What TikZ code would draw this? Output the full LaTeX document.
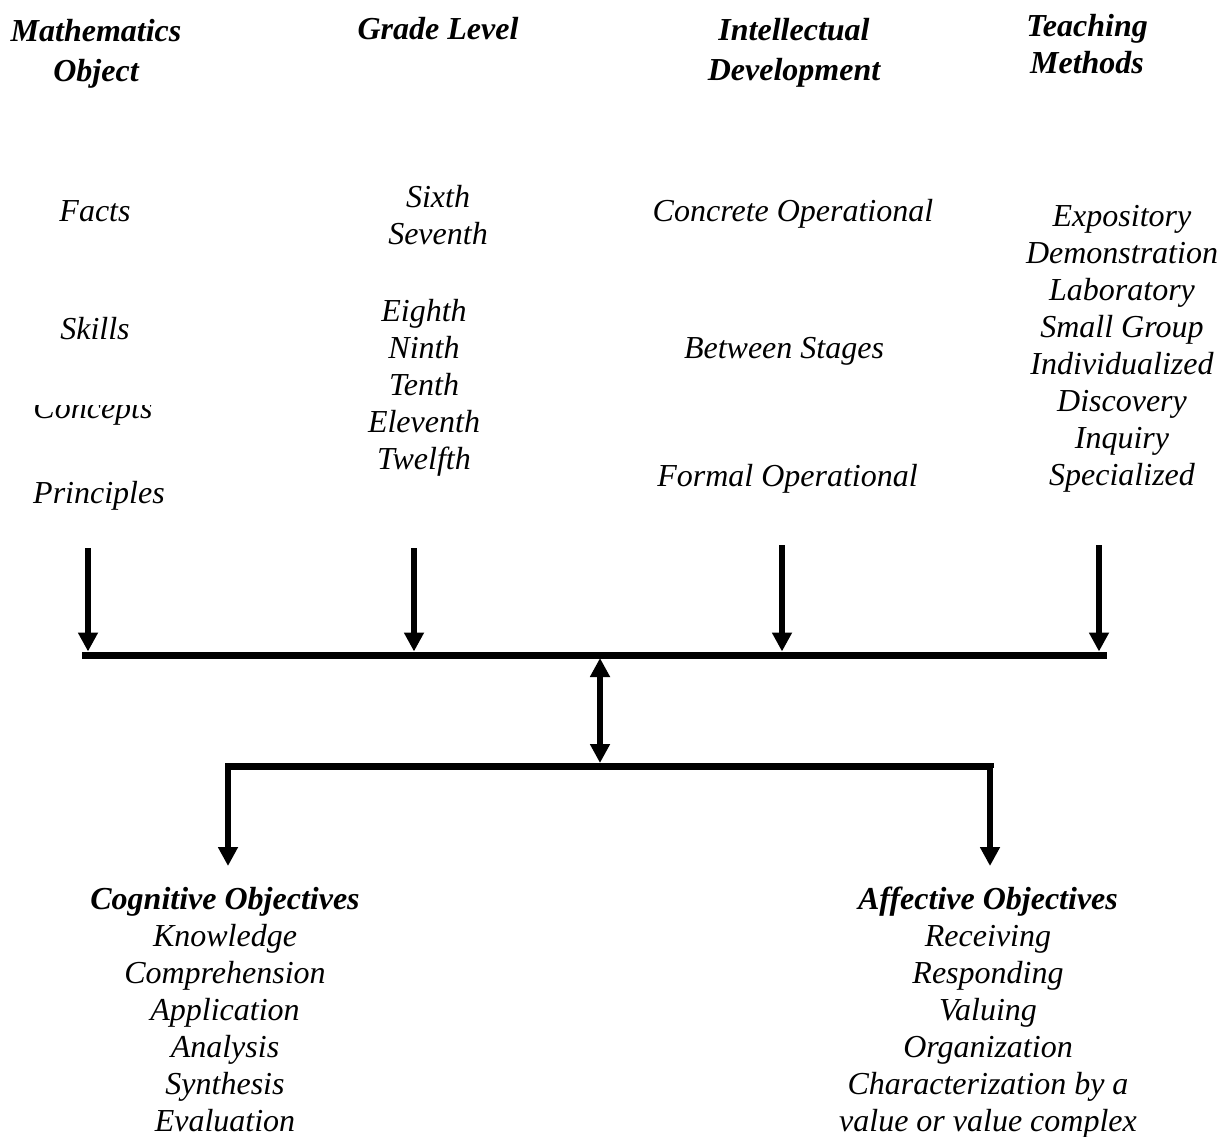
\documentclass[tikz,border=0pt]{standalone}
\usepackage{fontspec}
\setmainfont{Liberation Serif}
\usetikzlibrary{arrows.meta}
\begin{document}
\begin{tikzpicture}[x=1pt,y=-1pt,
  txt/.style={font=\fontsize{32}{37}\selectfont\itshape, align=center, inner sep=0pt},
  head/.style={font=\fontsize{32}{40}\selectfont\bfseries\itshape, align=center, inner sep=0pt},
  bus/.style={line width=7pt, line cap=rect},
  arr/.style={line width=5.5pt, -{Triangle[width=19pt,length=19pt]}},
  darr/.style={line width=5.5pt, {Triangle[width=19pt,length=19pt]}-{Triangle[width=19pt,length=19pt]}}]
\useasboundingbox (0,0) rectangle (1223,1136);
% headings
\node[head] (h1) at (96,53.5) {Mathematics\\Object};
\node[head] (h2) at (438,29) {Grade Level};
\node[head] (h3) at (794,52.5) {Intellectual\\Development};
\node[head, font=\fontsize{32}{37}\selectfont\bfseries\itshape] (h4) at (1087,44.5) {Teaching\\Methods};
% mathematics objects
\node[txt] (facts) at (95,211) {Facts};
\node[txt] (skills) at (95,329) {Skills};
\begin{scope}
\clip (0,405) rectangle (300,440);
\node[txt, anchor=base] (concepts) at (93,418) {Concepts};
\end{scope}
\node[txt] (princ) at (99,496) {Principles};
% grade levels
\node[txt] (g1) at (438,215.5) {Sixth\\Seventh};
\node[txt] (g2) at (424,388) {Eighth\\Ninth\\Tenth\\Eleventh\\Twelfth};
% intellectual development
\node[txt] (i1) at (793,214) {Concrete Operational};
\node[txt] (i2) at (784,351) {Between Stages};
\node[txt] (i3) at (787.5,479) {Formal Operational};
% teaching methods
\node[txt] (tm) at (1122,349) {Expository\\Demonstration\\Laboratory\\Small Group\\Individualized\\Discovery\\Inquiry\\Specialized};
% objectives
\node[txt] (cog) at (225,1009.5) {{\bfseries Cognitive Objectives}\\Knowledge\\Comprehension\\Application\\Analysis\\Synthesis\\Evaluation};
\node[txt] (aff) at (988,1012.5) {{\bfseries Affective Objectives}\\Receiving\\Responding\\Valuing\\Organization\\Characterization by a\\value or value complex};
% coordinates
\coordinate (a1) at (88,548);
\coordinate (a2) at (414,548);
\coordinate (a3) at (782,545);
\coordinate (a4) at (1099,545);
\coordinate (busL) at (85,655);
\coordinate (busR) at (1103,655);
\coordinate (busTop) at (0,651.5);
\coordinate (mid1) at (600,658);
\coordinate (mid2) at (600,763);
\coordinate (lowL) at (228,766);
\coordinate (lowR) at (990,766);
\coordinate (tipL) at (228,866);
\coordinate (tipR) at (990,866);
% connectors
\draw[bus] (busL) -- (busR);
\draw[arr] (a1) -- (a1 |- busTop);
\draw[arr] (a2) -- (a2 |- busTop);
\draw[arr] (a3) -- (a3 |- busTop);
\draw[arr] (a4) -- (a4 |- busTop);
\draw[darr] (mid1) -- (mid2);
\draw[line width=7pt, line join=miter] ([yshift=-2pt]tipL |- lowL) -- (lowL) -- (lowR) -- ([yshift=-2pt]lowR);
\draw[arr] ([yshift=3pt]lowL) -- (tipL);
\draw[arr] ([yshift=3pt]lowR) -- (tipR);
\end{tikzpicture}
\end{document}
